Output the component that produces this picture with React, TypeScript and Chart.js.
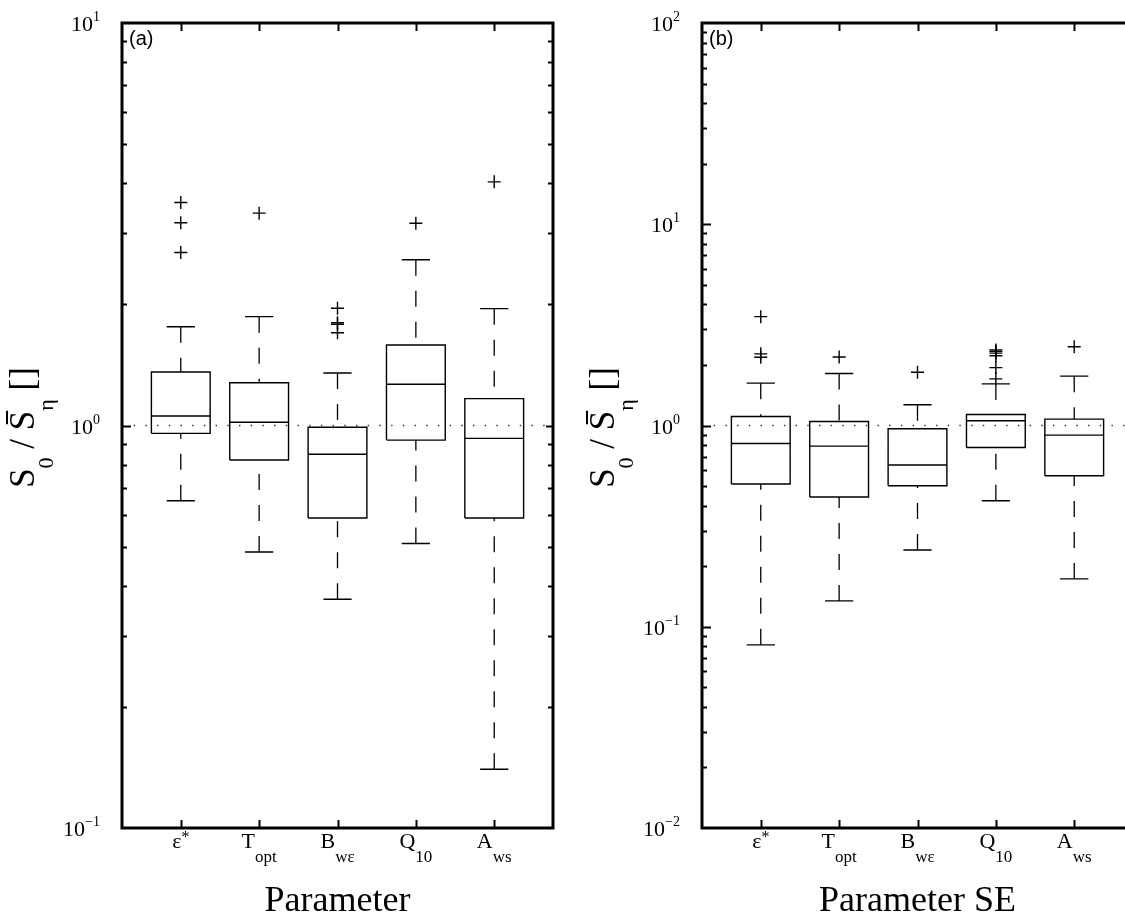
import React, { useEffect, useRef } from 'react';
import { Chart, registerables } from 'chart.js';

Chart.register(...registerables);

// Category labels: base glyph plus optional subscript / superscript
const CATEGORY_BASE = ['ε', 'T', 'B', 'Q', 'A'];
const CATEGORY_SUB = ['', 'opt', 'wε', '10', 'ws'];
const CATEGORY_SUP = ['*', '', '', '', ''];

// Panel (a): parameter ratio
const A_LOW = [0.65, 0.485, 0.37, 0.509, 0.14];
const A_Q1 = [0.956, 0.821, 0.589, 0.92, 0.589];
const A_MEDIAN = [1.056, 1.019, 0.848, 1.266, 0.929];
const A_Q3 = [1.358, 1.277, 0.99, 1.585, 1.166];
const A_HIGH = [1.76, 1.864, 1.35, 2.582, 1.951];
const A_OUTLIERS = [[2.69, 3.19, 3.58], [3.37], [1.7, 1.784, 1.8, 1.955], [3.18], [4.03]];
const A_DECADES = [-1, 0, 1];

// Panel (b): parameter standard-error ratio
const B_LOW = [0.0813, 0.1344, 0.2407, 0.423, 0.1729];
const B_Q1 = [0.512, 0.441, 0.502, 0.778, 0.563];
const B_MEDIAN = [0.814, 0.79, 0.636, 1.055, 0.896];
const B_Q3 = [1.108, 1.047, 0.963, 1.134, 1.076];
const B_HIGH = [1.623, 1.812, 1.267, 1.61, 1.759];
const B_OUTLIERS = [[2.185, 2.27, 3.475], [2.19], [1.84], [1.705, 1.94, 2.22, 2.29, 2.34, 2.375], [2.46]];
const B_DECADES = [-2, -1, 0, 1, 2];

const REFERENCE_LEVEL = 1;

const SERIF = "'Liberation Serif', 'Times New Roman', serif";
const SANS = "'Liberation Sans', Arial, sans-serif";

const BOX_HALF = 0.375;
const CAP_HALF = 0.18;
const X_MIN = 0.25;
const X_MAX = 5.75;

type Pt = { x: number; y: number | null };

interface PanelData {
  low: number[];
  q1: number[];
  median: number[];
  q3: number[];
  high: number[];
  outliers: number[][];
  decades: number[];
  xTitle: string;
  tag: string;
}

function buildDatasets(d: PanelData) {
  const boxes: Pt[] = [];
  const medians: Pt[] = [];
  const whiskers: Pt[] = [];
  const caps: Pt[] = [];
  const fliers: Pt[] = [];
  d.q1.forEach((_, i) => {
    const x = i + 1;
    boxes.push(
      { x: x - BOX_HALF, y: d.q1[i] },
      { x: x + BOX_HALF, y: d.q1[i] },
      { x: x + BOX_HALF, y: d.q3[i] },
      { x: x - BOX_HALF, y: d.q3[i] },
      { x: x - BOX_HALF, y: d.q1[i] },
      { x, y: null }
    );
    medians.push({ x: x - BOX_HALF, y: d.median[i] }, { x: x + BOX_HALF, y: d.median[i] }, { x, y: null });
    whiskers.push(
      { x, y: d.high[i] },
      { x, y: d.q3[i] },
      { x, y: null },
      { x, y: d.low[i] },
      { x, y: d.q1[i] },
      { x, y: null }
    );
    caps.push(
      { x: x - CAP_HALF, y: d.high[i] },
      { x: x + CAP_HALF, y: d.high[i] },
      { x, y: null },
      { x: x - CAP_HALF, y: d.low[i] },
      { x: x + CAP_HALF, y: d.low[i] },
      { x, y: null }
    );
    d.outliers[i].forEach((v) => fliers.push({ x, y: v }));
  });

  const lineBase = {
    type: 'line' as const,
    borderColor: '#000',
    backgroundColor: 'transparent',
    pointRadius: 0,
    fill: false,
    tension: 0,
    spanGaps: false,
  };

  return [
    {
      ...lineBase,
      label: 'reference',
      data: [
        { x: X_MIN, y: REFERENCE_LEVEL },
        { x: X_MAX, y: REFERENCE_LEVEL },
      ],
      borderWidth: 1.3,
      borderDash: [1.4, 10.3],
      borderColor: '#333',
    },
    { ...lineBase, label: 'whiskers', data: whiskers, borderWidth: 1.3, borderDash: [16, 15] },
    { ...lineBase, label: 'caps', data: caps, borderWidth: 1.4 },
    { ...lineBase, label: 'boxes', data: boxes, borderWidth: 1.4, borderJoinStyle: 'miter' as const },
    { ...lineBase, label: 'medians', data: medians, borderWidth: 1.4 },
    {
      type: 'scatter' as const,
      label: 'outliers',
      data: fliers,
      pointStyle: 'cross',
      pointRadius: 6.5,
      pointBorderWidth: 1.4,
      borderColor: '#000',
      backgroundColor: '#000',
    },
  ];
}

type Run = { text: string; size: number; shift: number; family?: string };

function runsWidth(ctx: CanvasRenderingContext2D, runs: Run[]) {
  let w = 0;
  for (const r of runs) {
    ctx.font = `${r.size}px ${r.family || SERIF}`;
    w += ctx.measureText(r.text).width;
  }
  return w;
}

function drawRuns(ctx: CanvasRenderingContext2D, runs: Run[], x: number, y: number) {
  const starts: number[] = [];
  let cx = x;
  for (const r of runs) {
    ctx.font = `${r.size}px ${r.family || SERIF}`;
    starts.push(cx);
    ctx.fillText(r.text, cx, y + r.shift);
    cx += ctx.measureText(r.text).width;
  }
  return starts;
}

function framePlugin(d: PanelData) {
  return {
    id: 'frame',
    afterDraw(chart: any) {
      const ctx: CanvasRenderingContext2D = chart.ctx;
      const { left, right, top, bottom } = chart.chartArea;
      const xs = chart.scales.x;
      const ys = chart.scales.y;
      ctx.save();
      ctx.strokeStyle = '#000';
      ctx.fillStyle = '#000';
      ctx.lineCap = 'butt';

      // Inward tick marks on the log axis (both sides)
      ctx.lineWidth = 2;
      const lo = d.decades[0];
      const hi = d.decades[d.decades.length - 1];
      for (let e = lo; e < hi; e++) {
        for (let m = 1; m <= 9; m++) {
          if (e === lo && m === 1) continue;
          const v = m * Math.pow(10, e);
          const y = Math.round(ys.getPixelForValue(v)) + 0.5;
          const major = m === 1;
          ctx.beginPath();
          ctx.moveTo(left, y);
          ctx.lineTo(left + (major ? 9 : 5), y);
          ctx.moveTo(right, y);
          ctx.lineTo(right - (major ? 7 : 5), y);
          ctx.stroke();
        }
      }
      // Category tick marks, top and bottom
      for (let i = 1; i <= CATEGORY_BASE.length; i++) {
        const x = Math.round(xs.getPixelForValue(i)) + 0.5;
        ctx.beginPath();
        ctx.moveTo(x, top);
        ctx.lineTo(x, top + 8);
        ctx.moveTo(x, bottom);
        ctx.lineTo(x, bottom - 8);
        ctx.stroke();
      }

      // Frame
      ctx.lineWidth = 3;
      ctx.strokeRect(left, top, right - left, bottom - top);

      // Decade labels 10^k
      ctx.textBaseline = 'alphabetic';
      for (const e of d.decades) {
        const y = ys.getPixelForValue(Math.pow(10, e));
        const supText = e < 0 ? '\u2212' + Math.abs(e) : String(e);
        const runs: Run[] = [
          { text: '10', size: 22, shift: 8 },
          { text: supText, size: 14, shift: -2 },
        ];
        const w = runsWidth(ctx, runs);
        drawRuns(ctx, runs, left - 22 - w, y);
      }

      // Category labels
      CATEGORY_BASE.forEach((base, i) => {
        const x = xs.getPixelForValue(i + 1);
        const runs: Run[] = [{ text: base, size: 22, shift: 0 }];
        if (CATEGORY_SUP[i]) runs.push({ text: CATEGORY_SUP[i], size: 16, shift: -6 });
        if (CATEGORY_SUB[i]) runs.push({ text: CATEGORY_SUB[i], size: 17, shift: 14 });
        const w = runsWidth(ctx, runs);
        drawRuns(ctx, runs, x - w / 2, bottom + 20);
      });

      // Axis title (x)
      ctx.font = `36px ${SERIF}`;
      ctx.textAlign = 'center';
      ctx.fillText(d.xTitle, (left + right) / 2, 911);
      ctx.textAlign = 'left';

      // Axis title (y), rotated
      ctx.save();
      ctx.translate(left - 88, (top + bottom) / 2 + 2);
      ctx.rotate(-Math.PI / 2);
      const yRuns: Run[] = [
        { text: 'S', size: 35, shift: 0 },
        { text: '0', size: 22, shift: 19 },
        { text: ' / ', size: 35, shift: 0 },
        { text: 'S', size: 35, shift: 0 },
        { text: 'η', size: 22, shift: 19 },
        { text: ' []', size: 35, shift: 0 },
      ];
      const yw = runsWidth(ctx, yRuns);
      const starts = drawRuns(ctx, yRuns, -yw / 2, 0);
      ctx.font = `35px ${SERIF}`;
      const sW = ctx.measureText('S').width;
      ctx.lineWidth = 2;
      ctx.beginPath();
      ctx.moveTo(starts[3] + sW * 0.3, -27);
      ctx.lineTo(starts[3] + sW * 1.0, -27);
      ctx.stroke();
      ctx.restore();

      // Panel tag
      ctx.font = `20px ${SANS}`;
      ctx.fillText(d.tag, left + 7, top + 22);
      ctx.restore();
    },
  };
}

function Panel({ d, left }: { d: PanelData; left: number }) {
  const ref = useRef<HTMLCanvasElement | null>(null);
  useEffect(() => {
    if (!ref.current) return;
    const lo = Math.pow(10, d.decades[0]);
    const hi = Math.pow(10, d.decades[d.decades.length - 1]);
    const chart = new Chart(ref.current, {
      type: 'line',
      data: { datasets: buildDatasets(d) as any },
      options: {
        animation: false,
        responsive: false,
        events: [],
        layout: { padding: { left: 122, right: 27, top: 23, bottom: 88 } },
        plugins: { legend: { display: false }, tooltip: { enabled: false } },
        scales: {
          x: { type: 'linear', min: X_MIN, max: X_MAX, display: false },
          y: { type: 'logarithmic', min: lo, max: hi, display: false },
        },
      },
      plugins: [framePlugin(d)],
    });
    return () => chart.destroy();
  }, [d]);
  return (
    <canvas
      ref={ref}
      width={580}
      height={916}
      style={{ position: 'absolute', left, top: 0, width: 580, height: 916 }}
    />
  );
}

const PANEL_A: PanelData = {
  low: A_LOW,
  q1: A_Q1,
  median: A_MEDIAN,
  q3: A_Q3,
  high: A_HIGH,
  outliers: A_OUTLIERS,
  decades: A_DECADES,
  xTitle: 'Parameter',
  tag: '(a)',
};

const PANEL_B: PanelData = {
  low: B_LOW,
  q1: B_Q1,
  median: B_MEDIAN,
  q3: B_Q3,
  high: B_HIGH,
  outliers: B_OUTLIERS,
  decades: B_DECADES,
  xTitle: 'Parameter SE',
  tag: '(b)',
};

export default function App() {
  return (
    <div
      style={{
        position: 'fixed',
        left: 0,
        top: 0,
        width: 1125,
        height: 916,
        overflow: 'hidden',
        background: '#fff',
      }}
    >
      <Panel d={PANEL_A} left={0} />
      <Panel d={PANEL_B} left={580} />
    </div>
  );
}
